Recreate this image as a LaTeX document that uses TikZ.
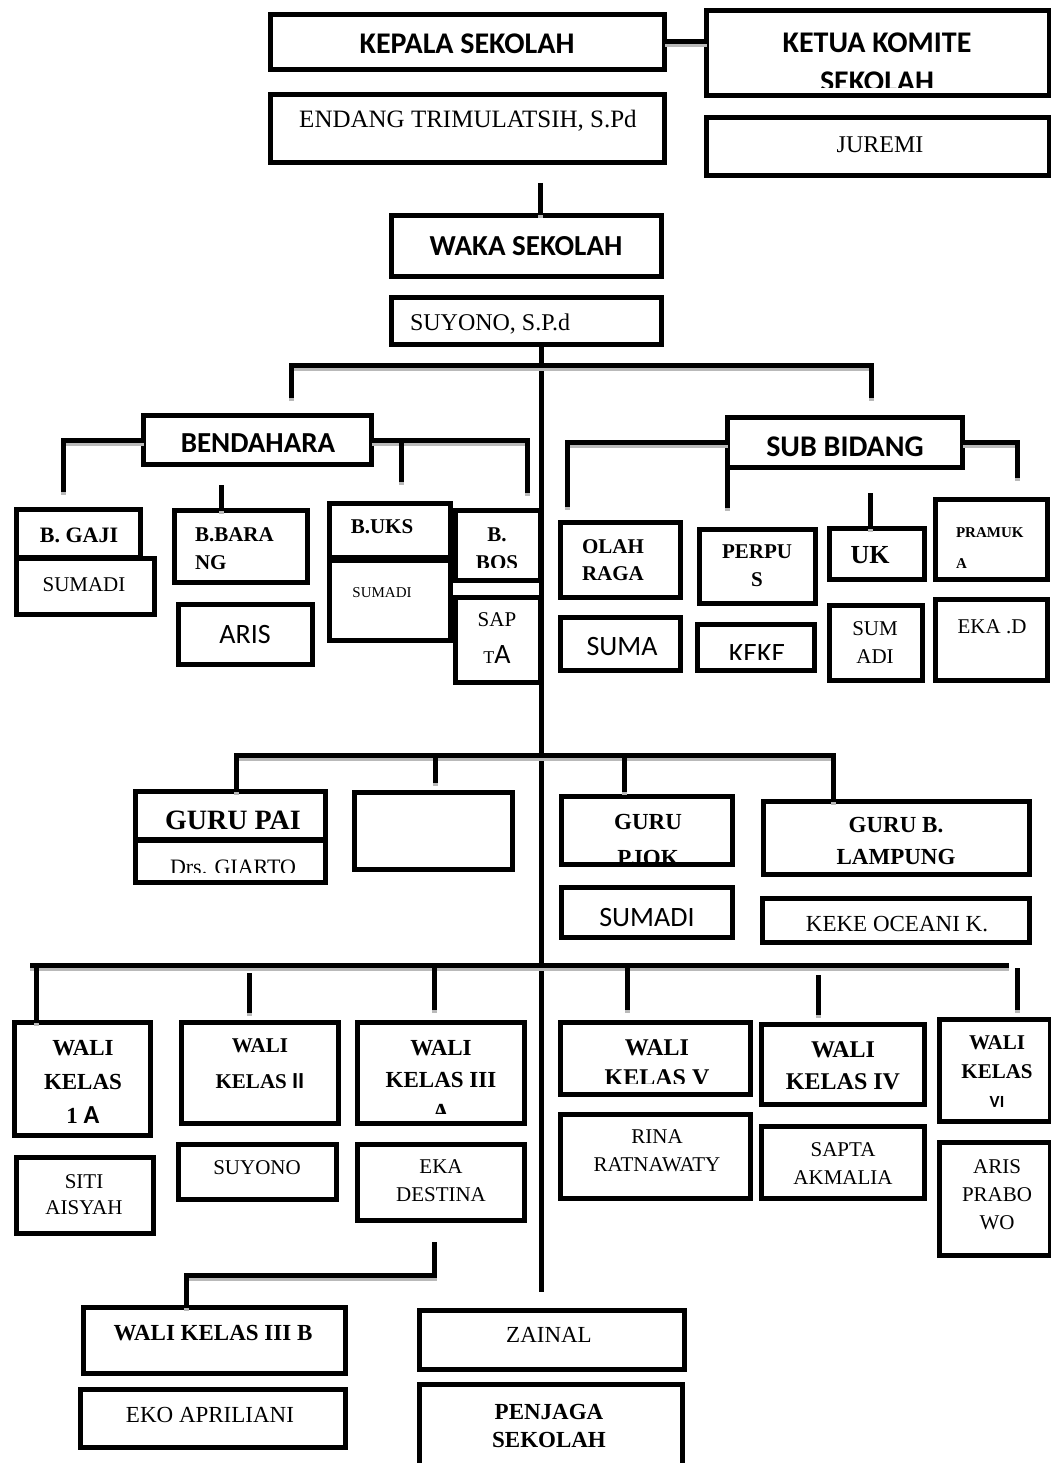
\documentclass[tikz,border=0pt]{standalone}
\usepackage{fontspec}
\setmainfont{Liberation Serif}
\newfontfamily\calib{Carlito}
\newcommand\bx[5]{\node[box, minimum width={#4-#2-5}, minimum height={#5-#3-5}] (#1) at ({(#2+#4)/2},{(#3+#5)/2}) {};}
\newcommand\tx[5]{\node[#1] (#2) at (#3,#4) {#5};}
\begin{document}
\begin{tikzpicture}[x=1pt,y=-1pt,
 box/.style={draw, line width=5pt, rectangle, inner sep=0pt, outer sep=0pt},
 conn/.style={line width=5pt, preaction={draw=gray!55, line width=5pt, transform canvas={yshift=-3pt}}},
 spine/.style={line width=5pt},
 txt/.style={inner sep=0pt, outer sep=0pt, align=center},
 hs/.style 2 args={txt, font=\calib\bfseries\fontsize{#1}{#2}\selectfont},
 sr/.style 2 args={txt, font=\calib\fontsize{#1}{#2}\selectfont},
 tb/.style 2 args={txt, font=\fontsize{#1}{#2}\selectfont\bfseries},
 tr/.style 2 args={txt, font=\fontsize{#1}{#2}\selectfont},
]
\useasboundingbox (0,0) rectangle (1051,1463);
\fill[white] (0,0) rectangle (1051,1463);
\clip (0,0) rectangle (1051,1463);

% ---------- boxes ----------
\bx{kepala}{268}{12}{667}{72}
\bx{ketua}{704}{8}{1052}{98}
\bx{endang}{268}{92}{667}{165}
\bx{juremi}{704}{115}{1052}{178}
\bx{waka}{389}{213}{664}{279}
\bx{suyono}{389}{295}{664}{347}

\bx{bend}{141}{413}{374}{467}
\bx{bgaji}{14}{507}{143}{560}
\bx{sumadiA}{14}{556}{157}{617}
\bx{bbarang}{172}{508}{310}{585}
\bx{aris}{176}{602}{315}{667}
\bx{buks}{327}{501}{453}{560}
\bx{sumadiB}{327}{558}{453}{643}
\bx{bbos}{453}{508}{543}{583}
\bx{sapta}{453}{595}{543}{685}

\bx{subbid}{725}{415}{965}{470}
\bx{olah}{558}{520}{683}{600}
\bx{suma}{558}{615}{683}{673}
\bx{perpus}{697}{527}{818}{606}
\bx{kekeA}{695}{622}{817}{673}
\bx{uk}{827}{526}{927}{582}
\bx{sumadiC}{827}{603}{925}{683}
\bx{pramuka}{933}{497}{1050}{582}
\bx{ekad}{933}{597}{1050}{683}

\bx{gurupai}{133}{789}{328}{842}
\bx{giarto}{133}{838}{328}{885}
\bx{empty}{352}{790}{515}{872}
\bx{pjok}{559}{794}{735}{867}
\bx{sumadiD}{559}{885}{735}{940}
\bx{lampung}{761}{799}{1032}{877}
\bx{kekeB}{760}{896}{1032}{945}

\bx{wali1a}{12}{1020}{153}{1138}
\bx{siti}{14}{1155}{156}{1236}
\bx{wali2}{179}{1020}{341}{1126}
\bx{suyonoB}{176}{1142}{339}{1202}
\bx{wali3a}{355}{1020}{527}{1126}
\bx{eka}{355}{1142}{527}{1223}
\bx{wali5}{558}{1020}{753}{1097}
\bx{rina}{558}{1112}{753}{1201}
\bx{wali4}{759}{1022}{927}{1107}
\bx{saptaA}{759}{1124}{927}{1201}
\bx{wali6}{937}{1017}{1053}{1124}
\bx{arisP}{937}{1140}{1053}{1258}

\bx{wali3b}{81}{1305}{348}{1376}
\bx{eko}{78}{1387}{348}{1450}
\bx{zainal}{417}{1308}{687}{1372}
\bx{penjaga}{417}{1382}{685}{1480}

% ---------- connectors ----------
\draw[conn] (kepala.east) -- (kepala.east -| ketua.west);
\coordinate (v1) at (540,183);
\draw[conn] (v1) -- (v1 |- waka.north);
\coordinate (spEnd) at (541,1292);
\draw[spine] (suyono.south -| spEnd) -- (spEnd);

\coordinate (tbL) at (291,398);
\coordinate (tbR) at (871,398);
\coordinate (tbY) at (541,365);
\draw[conn] (tbL) -- (tbL |- tbY) -- (tbR |- tbY) -- (tbR);

\coordinate (bL) at (63,492);
\draw[conn] (bend.west) -| (bL);
\coordinate (bR) at (527,493);
\draw[conn] (bend.east) -| (bR);
\coordinate (bT) at (401,482);
\draw[conn] (bT |- bend.east) -- (bT);
\coordinate (bbT) at (221,485);
\draw[conn] (bbT) -- (bbT |- bbarang.north);

\coordinate (sL) at (567,507);
\draw[conn] (subbid.west) -| (sL);
\coordinate (sP) at (727.5,508);
\draw[conn] (sP |- subbid.south) -- (sP);
\coordinate (sR) at (1017,478);
\draw[conn] (subbid.east) -| (sR);
\coordinate (ukC) at (870,493);
\draw[conn] (ukC) -- (ukC |- uk.north);

\coordinate (gA) at (236,755);
\coordinate (gB) at (833,755);
\coordinate (gd2) at (435,783);
\coordinate (gd3) at (624,792);
\draw[conn] (gA |- gurupai.north) -- (gA) -- (gB) -- (gB |- lampung.north);
\draw[conn] (gd2 |- gA) -- (gd2);
\draw[conn] (gd3 |- gA) -- (gd3);

\coordinate (wA) at (30,965);
\coordinate (wB) at (1009,965);
\draw[conn] (wA) -- (wB);
\coordinate (w1) at (36,1017);
\draw[conn] (w1 |- wA) -- (w1 |- wali1a.north);
\coordinate (w2a) at (249,973);
\coordinate (w2b) at (249,1013);
\draw[conn] (w2a) -- (w2b);
\coordinate (w3) at (434,1010);
\draw[conn] (w3 |- wA) -- (w3);
\coordinate (w4) at (627,1010);
\draw[conn] (w4 |- wA) -- (w4);
\coordinate (w5a) at (818,975);
\coordinate (w5b) at (818,1015);
\draw[conn] (w5a) -- (w5b);
\coordinate (w6a) at (1017,968);
\coordinate (w6b) at (1017,1010);
\draw[conn] (w6a) -- (w6b);

\coordinate (e1) at (434,1242);
\coordinate (e2) at (186,1275);
\draw[conn] (e1) |- (e2) -- (e2 |- wali3b.north);

% ---------- texts ----------
\tx{hs={30}{34}}{kepalaT}{467}{44}{KEPALA SEKOLAH}
\begin{scope}
\clip (709,13) rectangle (1047,88);
\tx{hs={30}{39}}{ketuaT}{877}{62}{KETUA KOMITE\\SEKOLAH}
\end{scope}
\tx{tr={25}{30}}{endangT}{468}{121}{ENDANG TRIMULATSIH, S.Pd}
\tx{tr={24}{28}}{juremiT}{880}{145}{JUREMI}
\tx{hs={29}{32}}{wakaT}{526}{246}{WAKA SEKOLAH}
\node[tr={24}{28}, anchor=west] (suyonoT) at (410,324) {SUYONO, S.P.d};

\tx{hs={29}{32}}{bendT}{258}{443}{BENDAHARA}
\tx{tb={22}{24}}{bgajiT}{79}{535}{B. GAJI}
\tx{tr={21}{24}}{sumadiAT}{84}{585}{SUMADI}
\node[tb={21}{28}, anchor=west, align=left] (bbarangT) at (195,549) {B.BARA\\NG};
\tx{sr={28}{30}}{arisT}{245}{635}{ARIS}
\tx{tb={21}{24}}{buksT}{382}{527}{B.UKS}
\tx{tr={15}{18}}{sumadiBT}{382}{593}{SUMADI}
\begin{scope}
\clip (458,513) rectangle (538,567);
\tx{tb={21}{28}}{bbosT}{497}{549}{B.\\BOS}
\end{scope}
\tx{tr={21}{24}}{saptaT1}{497}{620}{SAP}
\node[txt] (saptaT2) at (497,655) {{\fontsize{18}{20}\selectfont T}{\calib\fontsize{28}{30}\selectfont A}};

\tx{hs={30}{32}}{subbidT}{845}{447}{SUB BIDANG}
\node[tb={21}{27}, anchor=west, align=left] (olahT) at (582,560) {OLAH\\RAGA};
\tx{sr={28}{30}}{sumaT}{622}{647}{SUMA}
\tx{tb={21}{28}}{perpusT}{757}{566}{PERPU\\S}
\begin{scope}
\clip (700,627) rectangle (812,659);
\tx{sr={28}{30}}{kekeAT}{757}{654}{KEKE}
\end{scope}
\tx{tb={26}{30}}{ukT}{870}{555}{UK}
\tx{tr={21}{28}}{sumadiCT}{875}{643}{SUM\\ADI}
\node[tb={15}{31}, anchor=west, align=left] (pramukaT) at (956,548) {PRAMUK\\A};
\tx{tr={21}{24}}{ekadT}{992}{627}{EKA .D}

\tx{tb={28}{30}}{gurupaiT}{233}{820}{GURU PAI}
\begin{scope}
\clip (138,843) rectangle (323,872);
\tx{tr={22}{26}}{giartoT}{233}{867}{Drs. GIARTO}
\end{scope}
\begin{scope}
\clip (564,799) rectangle (730,861);
\tx{tb={23}{36}}{pjokT}{648}{840}{GURU\\PJOK}
\end{scope}
\tx{sr={28}{30}}{sumadiDT}{647}{918}{SUMADI}
\tx{tb={23}{32}}{lampungT}{896}{841}{GURU B.\\LAMPUNG}
\tx{tr={23}{26}}{kekeBT}{897}{924}{KEKE OCEANI K.}

\tx{tb={23}{34}}{wali1aT}{83}{1082}{WALI\\KELAS\\1 {\calib\fontsize{26}{34}\selectfont A}}
\tx{tr={21}{26}}{sitiT}{84}{1195}{SITI\\AISYAH}
\tx{tb={21}{36}}{wali2T}{260}{1064}{WALI\\KELAS {\calib\fontsize{23}{36}\selectfont II}}
\tx{tr={21}{24}}{suyonoBT}{257}{1168}{SUYONO}
\begin{scope}
\clip (360,1025) rectangle (522,1113);
\tx{tb={23}{32}}{wali3aT}{441}{1080}{WALI\\KELAS III\\A}
\end{scope}
\tx{tr={21}{28}}{ekaT}{441}{1181}{EKA\\DESTINA}
\begin{scope}
\clip (563,1025) rectangle (748,1083);
\tx{tb={24}{30}}{wali5T}{657}{1063}{WALI\\KELAS V}
\end{scope}
\tx{tr={21}{28}}{rinaT}{657}{1151}{RINA\\RATNAWATY}
\tx{tb={24}{32}}{wali4T}{843}{1066}{WALI\\KELAS IV}
\tx{tr={21}{28}}{saptaAT}{843}{1164}{SAPTA\\AKMALIA}
\tx{tb={21}{29}}{wali6T}{997}{1072}{WALI\\KELAS\\{\calib\fontsize{17}{29}\selectfont VI}}
\tx{tr={21}{28}}{arisPT}{997}{1195}{ARIS\\PRABO\\WO}

\tx{tb={23}{26}}{wali3bT}{213}{1333}{WALI KELAS III B}
\tx{tr={23}{26}}{ekoT}{210}{1415}{EKO APRILIANI}
\tx{tr={23}{26}}{zainalT}{549}{1335}{ZAINAL}
\tx{tb={23}{28}}{penjagaT}{549}{1426}{PENJAGA\\SEKOLAH}
\end{tikzpicture}
\end{document}
